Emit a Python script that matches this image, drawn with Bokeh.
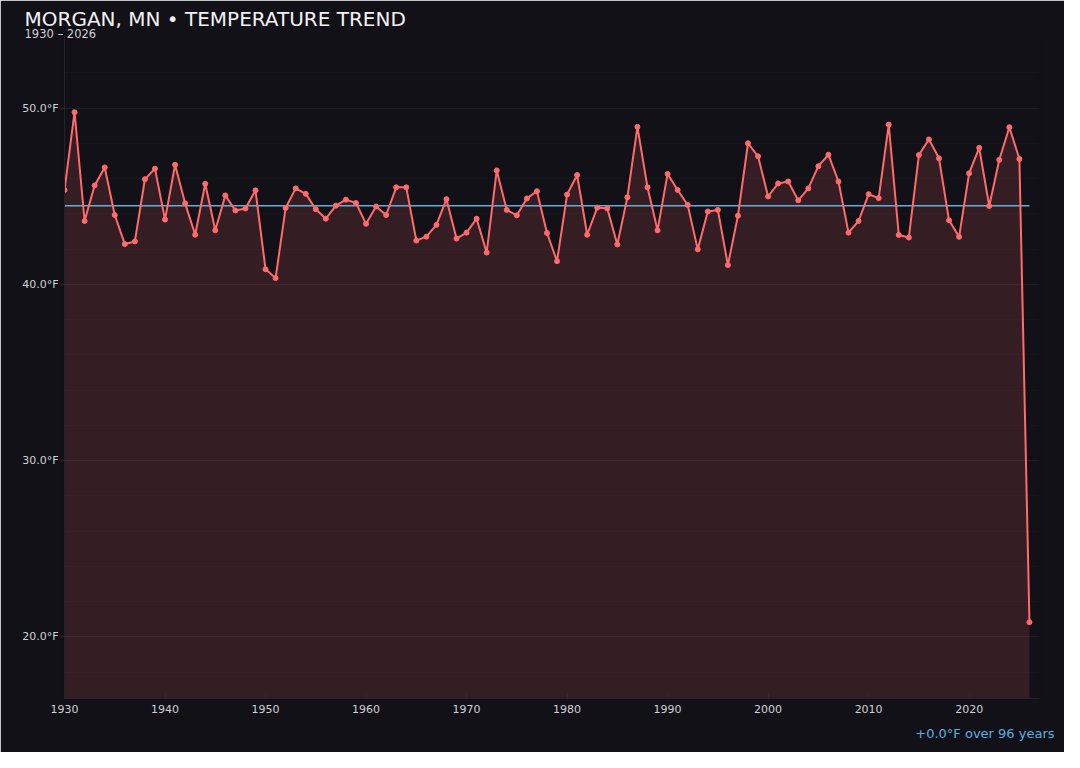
from bokeh.plotting import figure
from bokeh.models import Title, FixedTicker, PrintfTickFormatter, Range1d
from bokeh.embed import file_html
from bokeh.resources import INLINE

# yearly mean temperature
years = list(range(1930, 2027))
temps = [
    45.35, 49.76, 43.59, 45.61, 46.63, 43.93, 42.28, 42.43, 45.96, 46.56,  # 1930s
    43.67, 46.78, 44.59, 42.81, 45.70, 43.06, 45.04, 44.19, 44.30, 45.33,  # 1940s
    40.85, 40.35, 44.33, 45.44, 45.13, 44.26, 43.72, 44.46, 44.80, 44.61,  # 1950s
    43.43, 44.41, 43.93, 45.50, 45.50, 42.48, 42.70, 43.37, 44.83, 42.59,  # 1960s
    42.93, 43.72, 41.80, 46.46, 44.22, 43.91, 44.87, 45.28, 42.91, 41.31,  # 1970s
    45.09, 46.20, 42.81, 44.35, 44.30, 42.26, 44.93, 48.93, 45.50, 43.06,  # 1980s
    46.26, 45.35, 44.50, 41.98, 44.13, 44.22, 41.09, 43.89, 48.00, 47.26,  # 1990s
    44.98, 45.72, 45.83, 44.76, 45.44, 46.70, 47.35, 45.83, 42.93, 43.59,  # 2000s
    45.11, 44.89, 49.06, 42.80, 42.65, 47.33, 48.22, 47.15, 43.63, 42.69,  # 2010s
    46.30, 47.74, 44.44, 47.06, 48.91, 47.11, 20.83,                       # 2020s
]
trend_years = [1930, 2026]
trend_vals = [44.45, 44.45]

x_ticks = [1930, 1940, 1950, 1960, 1970, 1980, 1990, 2000, 2010, 2020]
y_ticks = [20, 30, 40, 50]

BG = "#121117"
RED = "#ff6b6b"
BLUE = "#5ab0e2"
FONT = "DejaVu Sans"

y_lo, y_hi = 16.5, 54.0

p = figure(width=1064, height=752, output_backend="svg", toolbar_location=None,
           title=None, x_range=Range1d(1930, 2027), y_range=Range1d(y_lo, y_hi))
p.min_border_left = 64
p.min_border_right = 25
p.min_border_top = 37
p.min_border_bottom = 54
p.background_fill_color = BG
p.border_fill_color = BG
# outline in the background colour hides the seam between the fills
p.outline_line_color = BG
p.outline_line_width = 2

# shaded area under the series
p.varea(x=years, y1=[y_lo] * len(years), y2=temps, fill_color=RED, fill_alpha=0.15)
p.line(trend_years, trend_vals, line_color=BLUE, line_width=1.5)
p.line(years, temps, line_color=RED, line_width=2)
p.scatter(years, temps, size=5, fill_color=RED, line_color=RED)

# axes
p.xaxis.ticker = FixedTicker(ticks=x_ticks)
p.yaxis.ticker = FixedTicker(ticks=y_ticks, minor_ticks=list(range(18, 54, 2)))
p.yaxis.formatter = PrintfTickFormatter(format="%.1f°F")
for ax in (p.xaxis, p.yaxis):
    ax.axis_line_color = "#24232b"
    ax.major_tick_line_color = "#2c2b33"
    ax.minor_tick_line_color = None
    ax.major_label_text_color = "#d0d0d6"
    ax.major_label_text_font = FONT
    ax.major_label_text_font_size = "11px"
p.yaxis.major_tick_in = 0
p.yaxis.major_tick_out = 4
p.yaxis.major_label_standoff = 2
p.xaxis.major_tick_in = 5
p.xaxis.major_tick_out = 0
p.xaxis.major_label_standoff = 6

p.xgrid.grid_line_color = None
p.ygrid.grid_line_color = "#ffffff"
p.ygrid.grid_line_alpha = 0.04
p.ygrid.minor_grid_line_color = "#ffffff"
p.ygrid.minor_grid_line_alpha = 0.015

# titles (first added sits next to the plot) and footer
p.add_layout(Title(text="1930 – 2026", text_color="#d0d0d6", text_font=FONT,
                   text_font_size="11.5px", text_font_style="normal",
                   align="left", offset=-40, standoff=-7.4), "above")
p.add_layout(Title(text="MORGAN, MN • TEMPERATURE TREND", text_color="#f2f2f5",
                   text_font=FONT, text_font_size="20px", text_font_style="normal",
                   align="left", offset=-40, standoff=-5.4), "above")
p.add_layout(Title(text="+0.0°F over 96 years", text_color=BLUE, text_font=FONT,
                   text_font_size="13px", text_font_style="normal",
                   align="right", offset=-15, standoff=17), "below")

open("out.html", "w").write(file_html(p, INLINE))
